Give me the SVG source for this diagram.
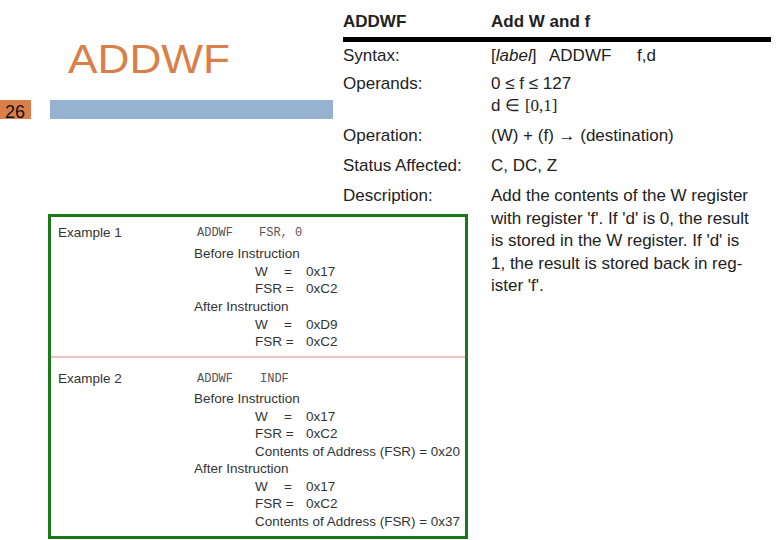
<svg xmlns="http://www.w3.org/2000/svg" width="780" height="540" viewBox="0 0 780 540">
<style>
.t{font-family:"Liberation Sans",Arial,sans-serif;font-size:17px;fill:#222}
.e{font-family:"Liberation Sans",Arial,sans-serif;font-size:13.5px;fill:#333}
.m{font-family:"Liberation Mono","Courier New",monospace;font-size:12px;fill:#555}
</style>
<rect width="780" height="540" fill="#fff"/>
<g id="title"><text x="68" y="73" font-family="Liberation Sans,Arial,sans-serif" font-size="41" fill="#D9804A" textLength="162" lengthAdjust="spacingAndGlyphs">ADDWF</text></g>
<g id="slidebar">
<rect x="0" y="100" width="31" height="19" fill="#D9804A"/>
<text x="5" y="118" font-family="Liberation Sans,Arial,sans-serif" font-size="18" fill="#111">26</text>
<rect x="50" y="100" width="283" height="19" fill="#95B3D0"/>
</g>
<g id="spec">
<text class="t" x="343" y="27" font-weight="bold">ADDWF</text>
<text class="t" x="491" y="27" font-weight="bold">Add W and f</text>
<rect x="343" y="37" width="428" height="5" fill="#000"/>
<text class="t" x="343" y="61">Syntax:</text>
<text class="t" x="491" y="61">[<tspan font-style="italic">label</tspan>]</text>
<text class="t" x="549" y="61">ADDWF</text>
<text class="t" x="637" y="61">f,d</text>
<text class="t" x="343" y="89">Operands:</text>
<text class="t" x="491" y="89">0 ≤ f ≤ 127</text>
<text class="t" x="491" y="111">d ∈ <tspan font-family="Liberation Serif,serif">[0,1]</tspan></text>
<text class="t" x="343" y="141">Operation:</text>
<text class="t" x="491" y="141">(W) + (f) → (destination)</text>
<text class="t" x="343" y="171">Status Affected:</text>
<text class="t" x="491" y="171">C, DC, Z</text>
<text class="t" x="343" y="201">Description:</text>
<text class="t" x="491" y="201">Add the contents of the W register</text>
<text class="t" x="491" y="224">with register 'f'. If 'd' is 0, the result</text>
<text class="t" x="491" y="246">is stored in the W register. If 'd' is</text>
<text class="t" x="491" y="269">1, the result is stored back in reg-</text>
<text class="t" x="491" y="291">ister 'f'.</text>
</g>
<g id="examples">
<rect x="49.5" y="215.5" width="417" height="322" fill="none" stroke="#1A7A1A" stroke-width="3"/>
<line x1="51" y1="357" x2="465" y2="357" stroke="#E08080" stroke-width="1.2"/>
<text class="e" x="58" y="237">Example 1</text>
<text class="m" x="197" y="236">ADDWF</text><text class="m" x="259" y="236">FSR, 0</text>
<text class="e" x="194" y="258">Before Instruction</text>
<text class="e" x="255" y="276">W</text><text class="e" x="284" y="276">=</text><text class="e" x="306" y="276">0x17</text>
<text class="e" x="255" y="293">FSR =</text><text class="e" x="306" y="293">0xC2</text>
<text class="e" x="194" y="311">After Instruction</text>
<text class="e" x="255" y="329">W</text><text class="e" x="284" y="329">=</text><text class="e" x="306" y="329">0xD9</text>
<text class="e" x="255" y="346">FSR =</text><text class="e" x="306" y="346">0xC2</text>
<text class="e" x="58" y="383">Example 2</text>
<text class="m" x="197" y="382">ADDWF</text><text class="m" x="260" y="382">INDF</text>
<text class="e" x="194" y="403">Before Instruction</text>
<text class="e" x="255" y="421">W</text><text class="e" x="284" y="421">=</text><text class="e" x="306" y="421">0x17</text>
<text class="e" x="255" y="438">FSR =</text><text class="e" x="306" y="438">0xC2</text>
<text class="e" x="255" y="456" textLength="205" lengthAdjust="spacingAndGlyphs">Contents of Address (FSR) = 0x20</text>
<text class="e" x="194" y="473">After Instruction</text>
<text class="e" x="255" y="491">W</text><text class="e" x="284" y="491">=</text><text class="e" x="306" y="491">0x17</text>
<text class="e" x="255" y="508">FSR =</text><text class="e" x="306" y="508">0xC2</text>
<text class="e" x="255" y="526" textLength="205" lengthAdjust="spacingAndGlyphs">Contents of Address (FSR) = 0x37</text>
</g>
</svg>
